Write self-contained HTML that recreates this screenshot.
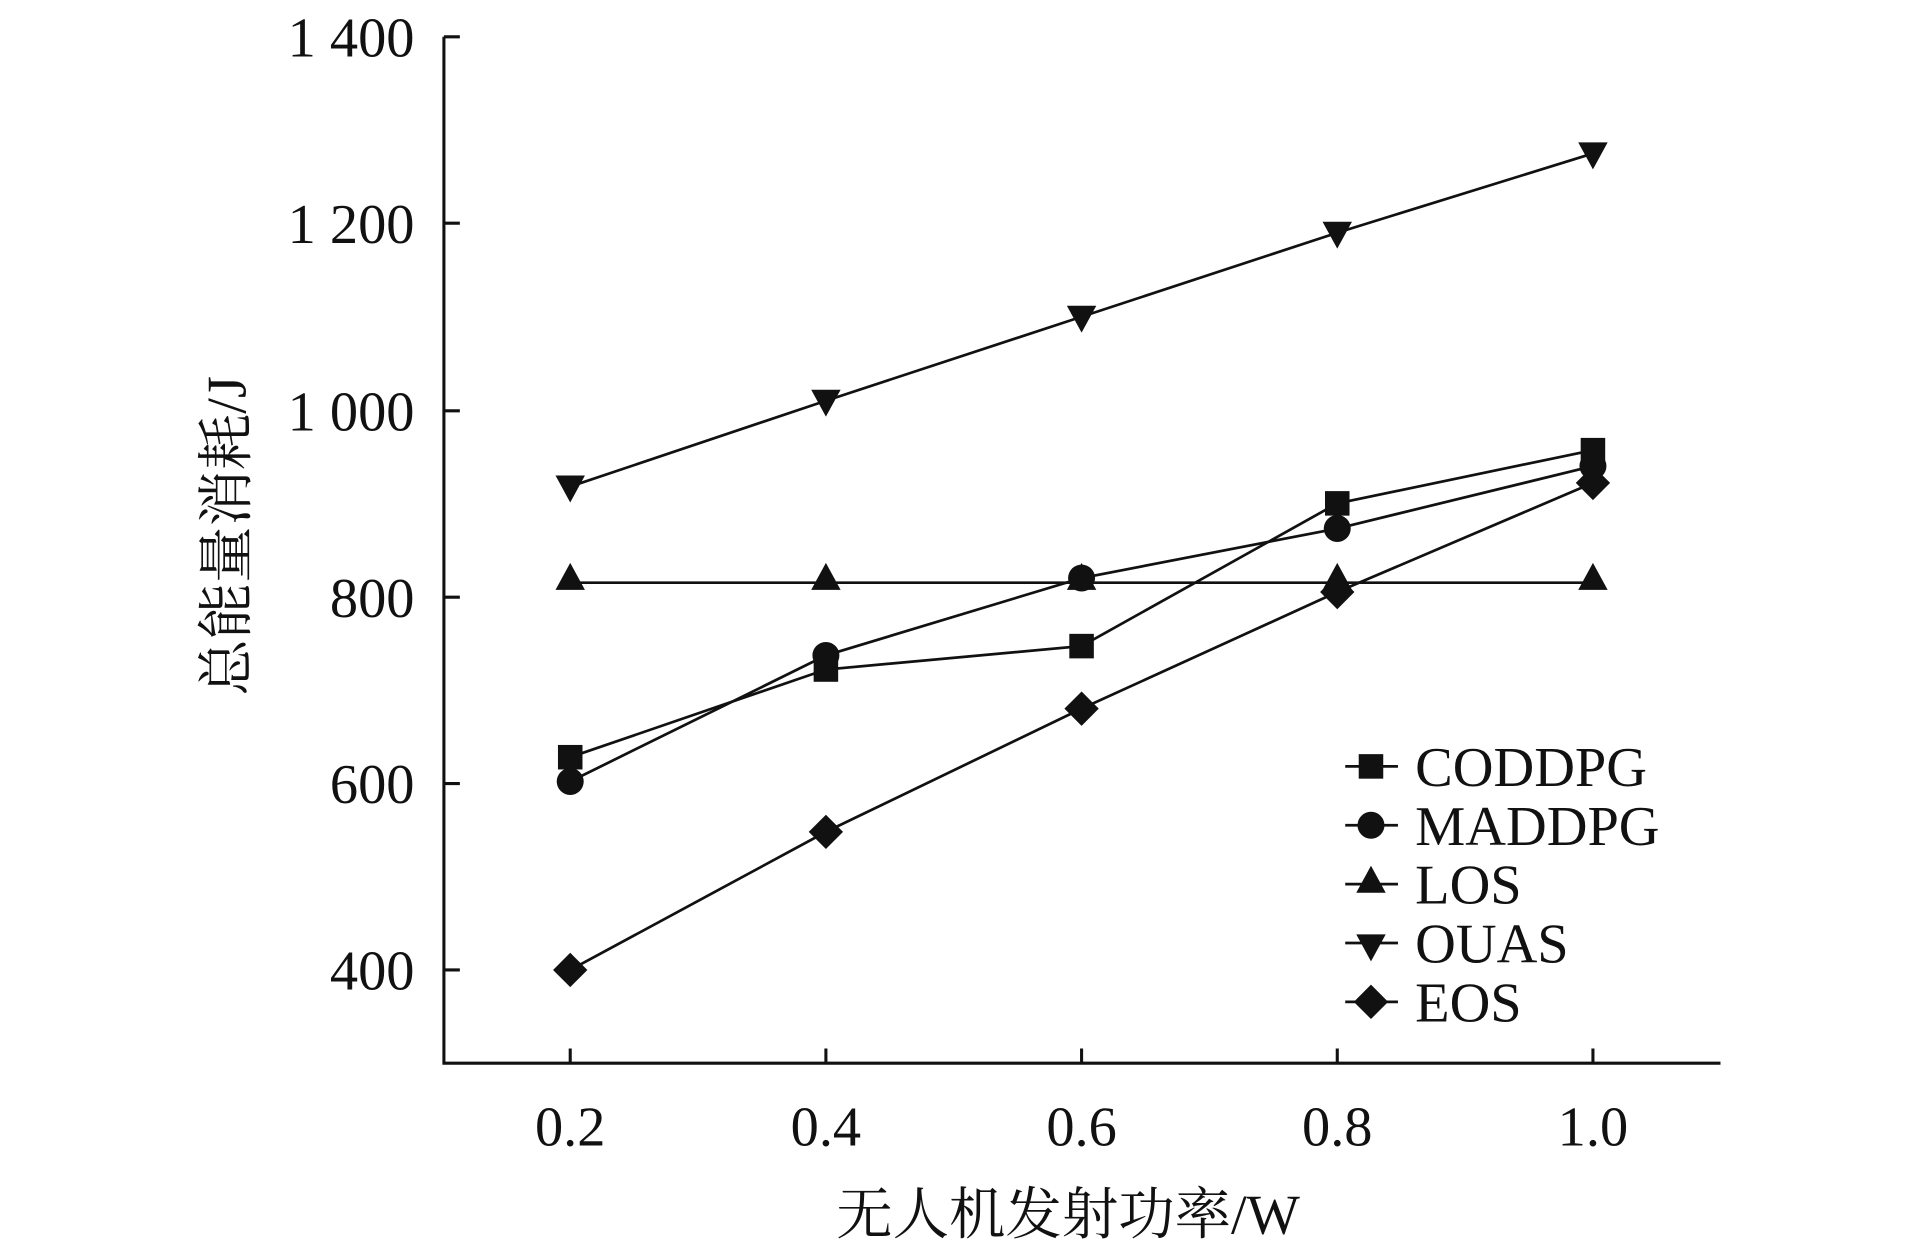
<!DOCTYPE html>
<html><head><meta charset="utf-8"><style>html,body{margin:0;padding:0;background:#fff}svg{display:block}</style></head>
<body>
<svg width="1913" height="1252" viewBox="0 0 1560 1021" preserveAspectRatio="none" xmlns="http://www.w3.org/2000/svg">
<defs>
<rect id="sq" x="-10" y="-10" width="20" height="20" fill="#111"/>
<circle id="ci" r="11" fill="#111"/>
<path id="tu" d="M0,-13 L12,9 L-12,9 Z" fill="#111"/>
<path id="td" d="M0,13 L12,-9 L-12,-9 Z" fill="#111"/>
<path id="di" d="M0,-14 L14,0 L0,14 L-14,0 Z" fill="#111"/>
</defs>
<g stroke="#111" stroke-width="2.5" fill="none">
<path d="M362,30 V867 H1403"/>
<path d="M362,30 h13 M362,182 h13 M362,335 h13 M362,487 h13 M362,639 h13 M362,791 h13"/>
<path d="M465,867 v-12 M673.5,867 v-12 M882,867 v-12 M1090.5,867 v-12 M1299,867 v-12"/>
</g>
<g stroke="#111" stroke-width="2.2" fill="none">
<polyline points="465,396.8 673.5,326.8 882,258.3 1090.5,189.8 1299,125.1"/>
<polyline points="465,475.2 1299,475.2"/>
<polyline points="465,617.5 673.5,546 882,526.9 1090.5,410.5 1299,367.1"/>
<polyline points="465,637.3 673.5,534.5 882,471.4 1090.5,431 1299,380.1"/>
<polyline points="465,791 673.5,678.4 882,577.9 1090.5,482.8 1299,393.8"/>
</g>
<g>
<use href="#td" x="465" y="396.8"/><use href="#td" x="673.5" y="326.8"/><use href="#td" x="882" y="258.3"/><use href="#td" x="1090.5" y="189.8"/><use href="#td" x="1299" y="125.1"/>
<use href="#tu" x="465" y="472"/><use href="#tu" x="673.5" y="472"/><use href="#tu" x="882" y="472"/><use href="#tu" x="1090.5" y="472"/><use href="#tu" x="1299" y="472"/>
<use href="#sq" x="465" y="617.5"/><use href="#sq" x="673.5" y="546"/><use href="#sq" x="882" y="526.9"/><use href="#sq" x="1090.5" y="410.5"/><use href="#sq" x="1299" y="367.1"/>
<use href="#ci" x="465" y="637.3"/><use href="#ci" x="673.5" y="534.5"/><use href="#ci" x="882" y="471.4"/><use href="#ci" x="1090.5" y="431"/><use href="#ci" x="1299" y="380.1"/>
<use href="#di" x="465" y="791"/><use href="#di" x="673.5" y="678.4"/><use href="#di" x="882" y="577.9"/><use href="#di" x="1090.5" y="482.8"/><use href="#di" x="1299" y="393.8"/>
</g>
<g font-family="Liberation Serif, serif" font-size="46" fill="#111" text-anchor="end">
<text x="338" y="46">1 400</text><text x="338" y="198">1 200</text><text x="338" y="351">1 000</text>
<text x="338" y="503">800</text><text x="338" y="655">600</text><text x="338" y="807">400</text>
</g>
<g font-family="Liberation Serif, serif" font-size="46" fill="#111" text-anchor="middle">
<text x="465" y="934">0.2</text><text x="673.5" y="934">0.4</text><text x="882" y="934">0.6</text><text x="1090.5" y="934">0.8</text><text x="1299" y="934">1.0</text>
</g>
<text x="871" y="1006" text-anchor="middle" font-family="Liberation Serif, 'Noto Serif CJK SC', serif" font-size="46" fill="#111">无人机发射功率/W</text>
<text transform="translate(200,437) rotate(-90)" text-anchor="middle" font-family="Liberation Serif, 'Noto Serif CJK SC', serif" font-size="46" fill="#111">总能量消耗/J</text>
<g stroke="#111" stroke-width="2.2">
<path d="M1097,625 h43 M1097,673 h43 M1097,721 h43 M1097,769 h43 M1097,817 h43"/>
</g>
<use href="#sq" x="1118" y="625"/><use href="#ci" x="1118" y="673"/><use href="#tu" x="1118" y="719"/><use href="#td" x="1118" y="771"/><use href="#di" x="1118" y="817"/>
<g font-family="Liberation Serif, serif" font-size="46" fill="#111">
<text x="1154" y="641">CODDPG</text><text x="1154" y="689">MADDPG</text><text x="1154" y="737">LOS</text><text x="1154" y="785">OUAS</text><text x="1154" y="833">EOS</text>
</g>
</svg>
</body></html>
